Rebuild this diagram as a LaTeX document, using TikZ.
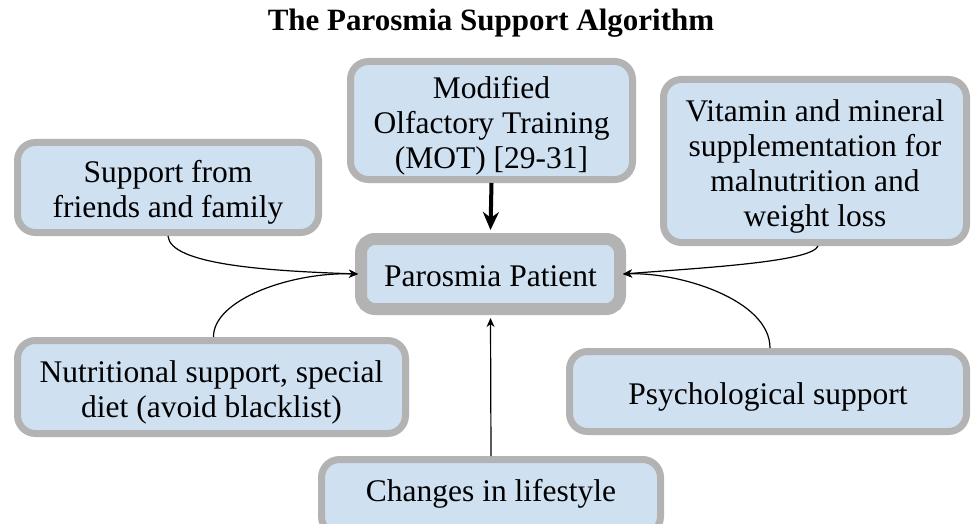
\documentclass[tikz,border=0pt]{standalone}
\usepackage{fontspec}
\setmainfont{Liberation Serif}
\usetikzlibrary{arrows.meta}
\definecolor{boxfill}{HTML}{CFE0F1}
\definecolor{boxline}{HTML}{B3B3B3}
\tikzset{
  box/.style={draw=boxline, fill=boxfill, line width=7pt, rounded corners=18pt,
    inner sep=0pt},
  txt/.style={align=center, inner sep=0pt, font=\fontsize{31.5pt}{35pt}\selectfont, text=black, yshift=-5pt},
  thin/.style={line width=1.2pt, -{Stealth[length=9pt,width=8pt]}},
  thick/.style={line width=4pt, -{Stealth[length=18pt,width=16pt]}},
}
\begin{document}
\begin{tikzpicture}[x=1pt,y=-1pt]
\clip (0,0) rectangle (972,524);
\fill[white] (0,0) rectangle (972,524);
\node[font=\fontsize{31pt}{35pt}\selectfont\bfseries] (title) at (491,23) {The Parosmia Support Algorithm};
\node[box, minimum width=301pt, minimum height=90pt,
  label={[txt]center:{Support from\\friends and family}}] (friends) at (168,187.5) {};
\node[box, minimum width=282pt, minimum height=118pt,
  label={[txt]center:{Modified\\Olfactory Training\\(MOT) [29-31]}}] (mot) at (491.5,120.5) {};
\node[box, minimum width=303pt, minimum height=163pt,
  label={[txt]center:{Vitamin and mineral\\supplementation for\\malnutrition and\\weight loss}}] (vit) at (815,161) {};
\node[box, line width=12pt, rounded corners=14pt, minimum width=259pt, minimum height=70pt,
  label={[txt,yshift=3pt]center:{Parosmia Patient}}] (pat) at (490.5,274) {};
\node[box, minimum width=388pt, minimum height=93pt,
  label={[txt]center:{Nutritional support, special\\diet (avoid blacklist)}}] (nut) at (211.5,387) {};
\node[box, minimum width=397pt, minimum height=80pt,
  label={[txt]center:{Psychological support}}] (psy) at (768,391.5) {};
\node[box, minimum width=339pt, minimum height=75pt] (chg) at (491,497) {};
\node[txt, yshift=5pt] (chgtext) at (491,494) {Changes in lifestyle};
\draw[thick] (mot.south) -- ([yshift=3pt]pat.north);
\draw[thin] (friends.south) .. controls (170,265) and (270,271) .. ([xshift=3pt]pat.west);
\draw[thin] ([xshift=2pt]nut.north) .. controls (213,300) and (290,272) .. ([xshift=3pt]pat.west);
\draw[thin] ([xshift=3pt]vit.south) .. controls (812,262) and (700,268) .. ([xshift=-3pt]pat.east);
\draw[thin] ([xshift=2pt]psy.north) .. controls (770,300) and (680,272) .. ([xshift=-3pt]pat.east);
\draw[thin] (chg.north) -- ([yshift=-3pt]pat.south);
\end{tikzpicture}
\end{document}
